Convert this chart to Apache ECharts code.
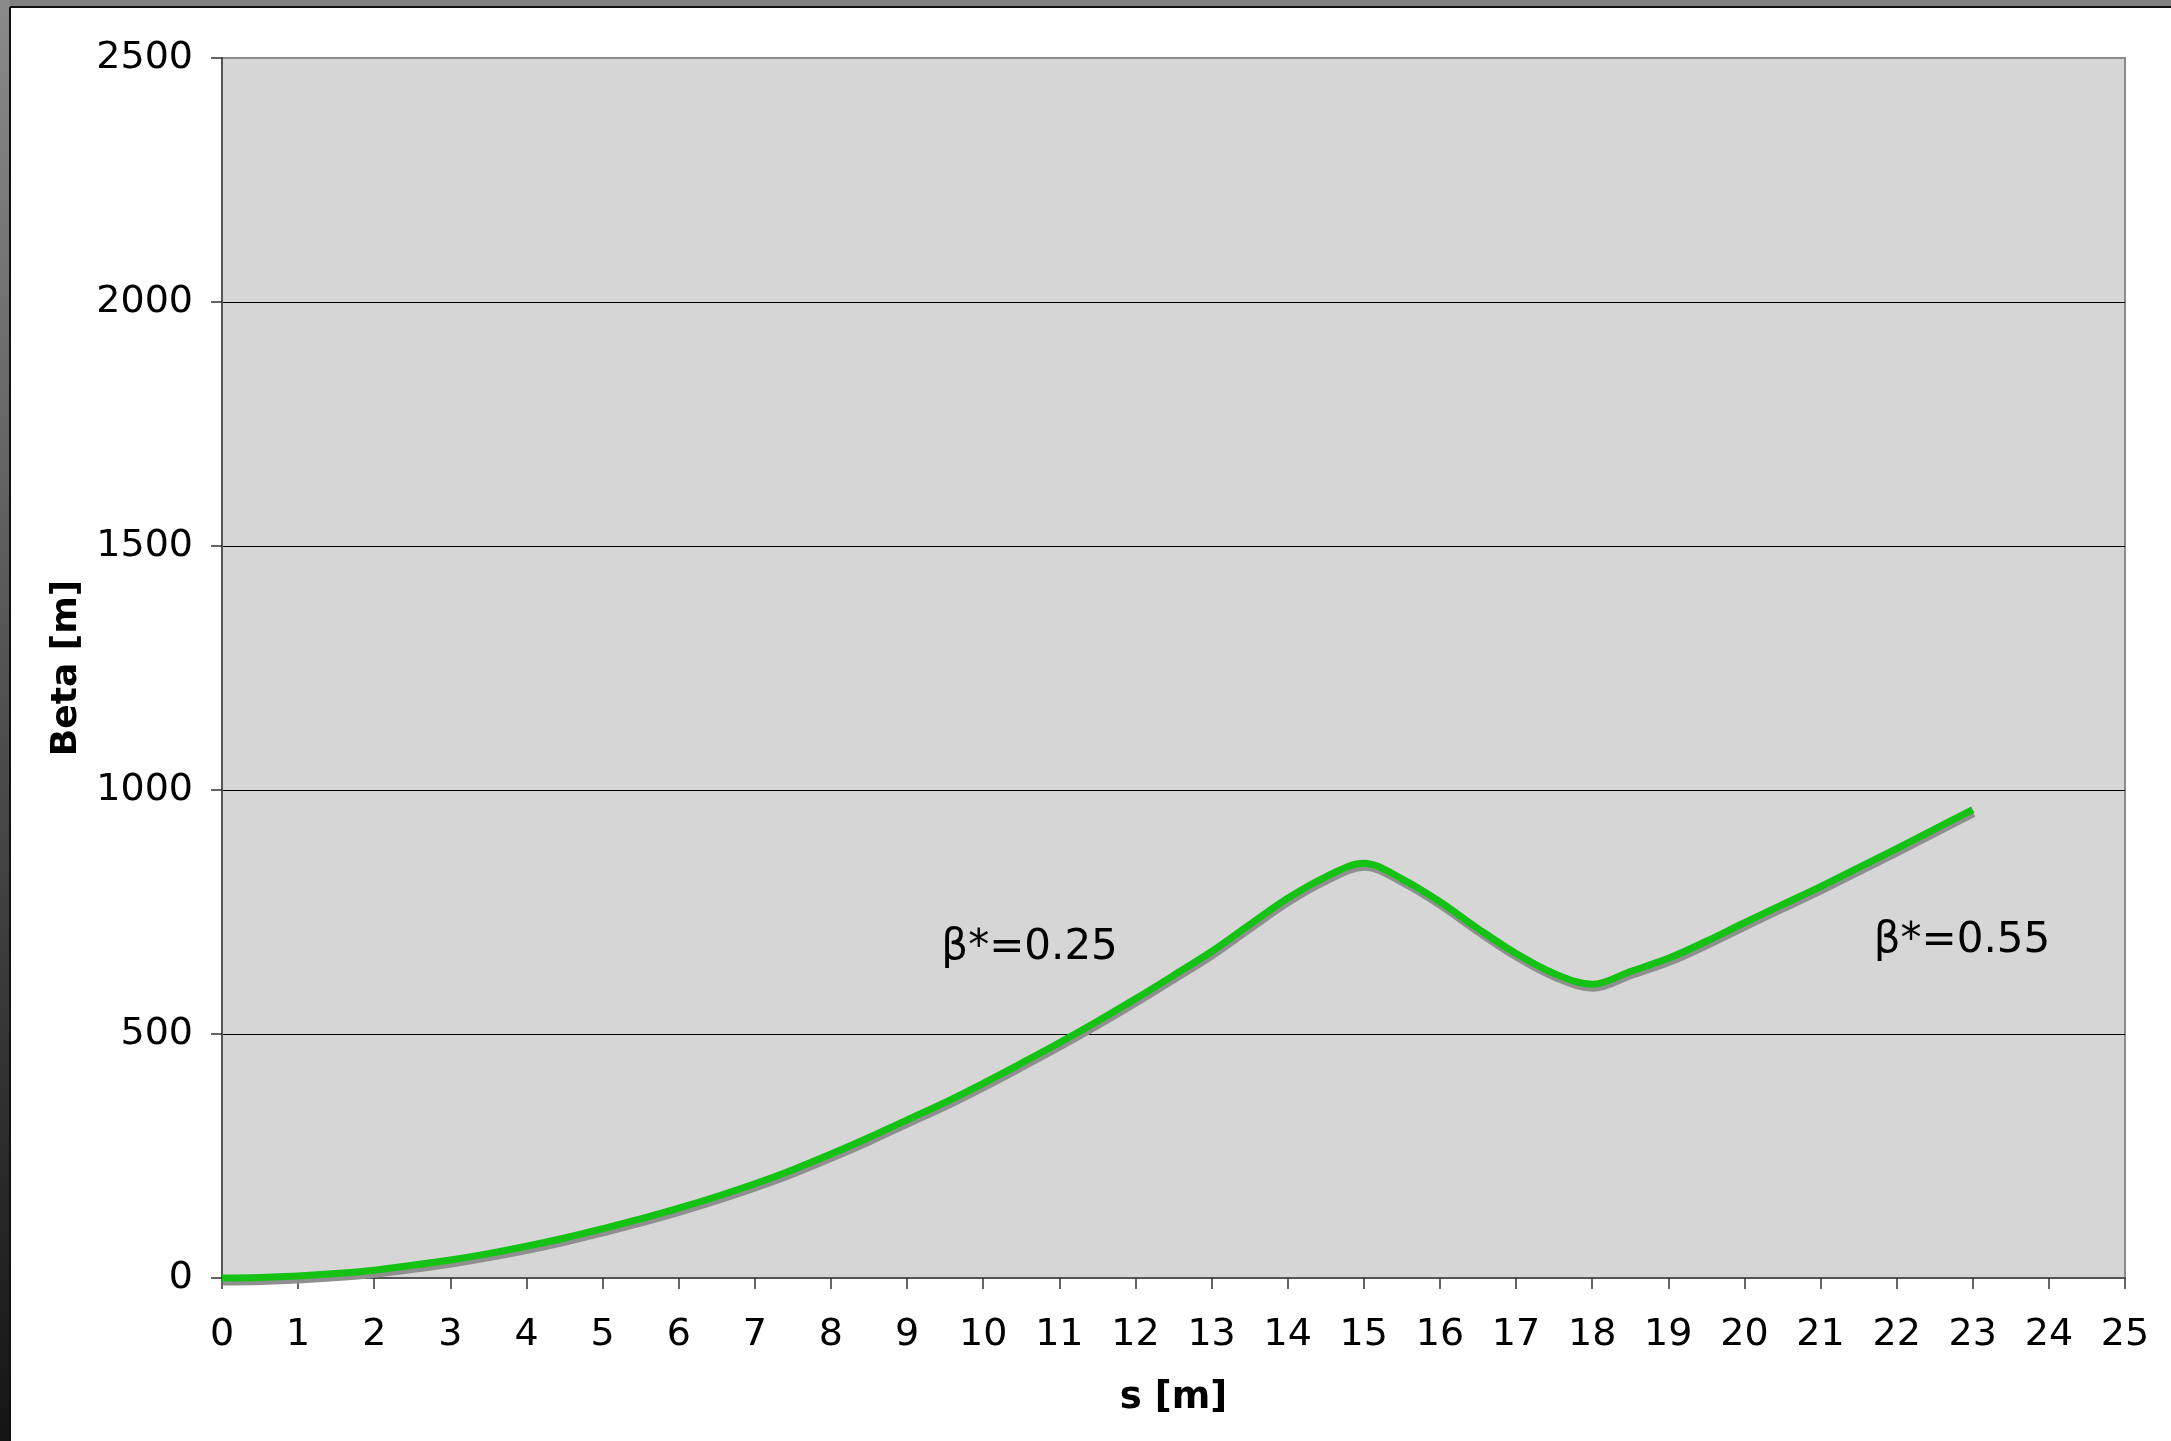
<!DOCTYPE html>
<html>
<head>
<meta charset="utf-8">
<title>Beta function vs s</title>
<script src="https://cdn.jsdelivr.net/npm/echarts@6/dist/echarts.min.js"></script>
<style>
  html, body { margin: 0; padding: 0; background: #ffffff; }
  #chart { width: 2171px; height: 1441px; }
</style>
</head>
<body>
<div id="chart"></div>
<script>
// Longitudinal position along the beamline [m]
const sPositions = [0, 0.5, 1, 1.5, 2, 2.5, 3, 3.5, 4, 4.5, 5, 5.5, 6, 6.5, 7, 7.5, 8, 8.5, 9, 9.5,
  10, 10.5, 11, 11.5, 12, 12.5, 13, 13.5, 14, 14.5, 15, 15.5, 16, 16.5, 17, 17.5, 18, 18.5, 19, 19.5,
  20, 20.5, 21, 21.5, 22, 22.5, 23];
// Beta function [m]
const betaValues = [0, 1, 4, 9, 16, 26, 37, 50, 65, 82, 101, 121, 143, 167, 193, 222, 254, 288, 324, 360,
  399, 440, 482, 526, 572, 620, 669, 724, 778, 822, 850, 818, 771, 716, 665, 624, 602, 628, 655, 690,
  728, 765, 802, 841, 880, 920, 960];
// Optics annotations: text with the (s, beta) point it is anchored to
const annotationTexts = ['β*=0.25', 'β*=0.55'];
const annotationAnchors = [[9.45, 676], [21.7, 690]];

const FONT = 'DejaVu Sans';
const chart = echarts.init(document.getElementById('chart'), null, { renderer: 'canvas' });

const frame = [
  { type: 'rect', shape: { x: 0, y: 0, width: 2171, height: 7 }, style: { fill: '#808080' }, z: -10, silent: true },
  { type: 'rect', shape: { x: 0, y: 0, width: 10, height: 1441 },
    style: { fill: new echarts.graphic.LinearGradient(0, 0, 0, 1, [
      { offset: 0, color: '#8a8a8a' }, { offset: 1, color: '#141414' }]) }, z: -10, silent: true },
  { type: 'line', shape: { x1: 10, y1: 7, x2: 2171, y2: 7 }, style: { stroke: '#111', lineWidth: 2 }, z: -9, silent: true },
  { type: 'line', shape: { x1: 10, y1: 7, x2: 10, y2: 1441 }, style: { stroke: '#111', lineWidth: 2 }, z: -9, silent: true }
];

const option = {
  animation: false,
  backgroundColor: '#ffffff',
  textStyle: { fontFamily: FONT },
  grid: {
    left: 222, right: 46, top: 58, bottom: 163,
    show: true, backgroundColor: '#d6d6d6', borderColor: '#8c8c8c', borderWidth: 2
  },
  xAxis: {
    type: 'value', min: 0, max: 25, interval: 1,
    name: 's [m]', nameLocation: 'middle', nameGap: 102,
    nameTextStyle: { fontFamily: FONT, fontSize: 37, fontWeight: 'bold', color: '#000' },
    axisLine: { show: true, onZero: false, lineStyle: { color: '#555', width: 2 } },
    axisTick: { show: true, inside: false, length: 11, lineStyle: { color: '#333', width: 1.5 } },
    axisLabel: { margin: 38, fontFamily: FONT, fontSize: 38, color: '#000', formatter: v => String(v) },
    splitLine: { show: false }
  },
  yAxis: {
    type: 'value', min: 0, max: 2500, interval: 500,
    name: 'Beta [m]', nameLocation: 'middle', nameGap: 137, nameRotate: 90,
    nameTextStyle: { fontFamily: FONT, fontSize: 36, fontWeight: 'bold', color: '#000' },
    axisLine: { show: true, lineStyle: { color: '#555', width: 2 } },
    axisTick: { show: true, inside: false, length: 11, lineStyle: { color: '#333', width: 1.5 } },
    axisLabel: { margin: 29, fontFamily: FONT, fontSize: 38, color: '#000', formatter: v => String(v) },
    splitLine: { show: true, showMinLine: false, showMaxLine: false, lineStyle: { color: '#000', width: 1.2 } }
  },
  series: [{
    type: 'line',
    data: sPositions.map((s, i) => [s, betaValues[i]]),
    showSymbol: false,
    smooth: 0.35,
    clip: false,
    lineStyle: {
      color: '#14c214', width: 7,
      shadowColor: '#8f8f8f', shadowBlur: 0, shadowOffsetX: 1, shadowOffsetY: 4
    },
    z: 3
  }],
  graphic: frame
};
chart.setOption(option);

// Place the optics annotations at their data anchors
const labels = annotationTexts.map((t, i) => {
  const p = chart.convertToPixel({ gridIndex: 0 }, annotationAnchors[i]);
  return {
    type: 'text', x: p[0], y: p[1], z: 5, silent: true,
    style: { text: t, fill: '#000', font: '42px "' + FONT + '"', textAlign: 'left', textVerticalAlign: 'middle' }
  };
});
chart.setOption({ graphic: frame.concat(labels) });
</script>
</body>
</html>
